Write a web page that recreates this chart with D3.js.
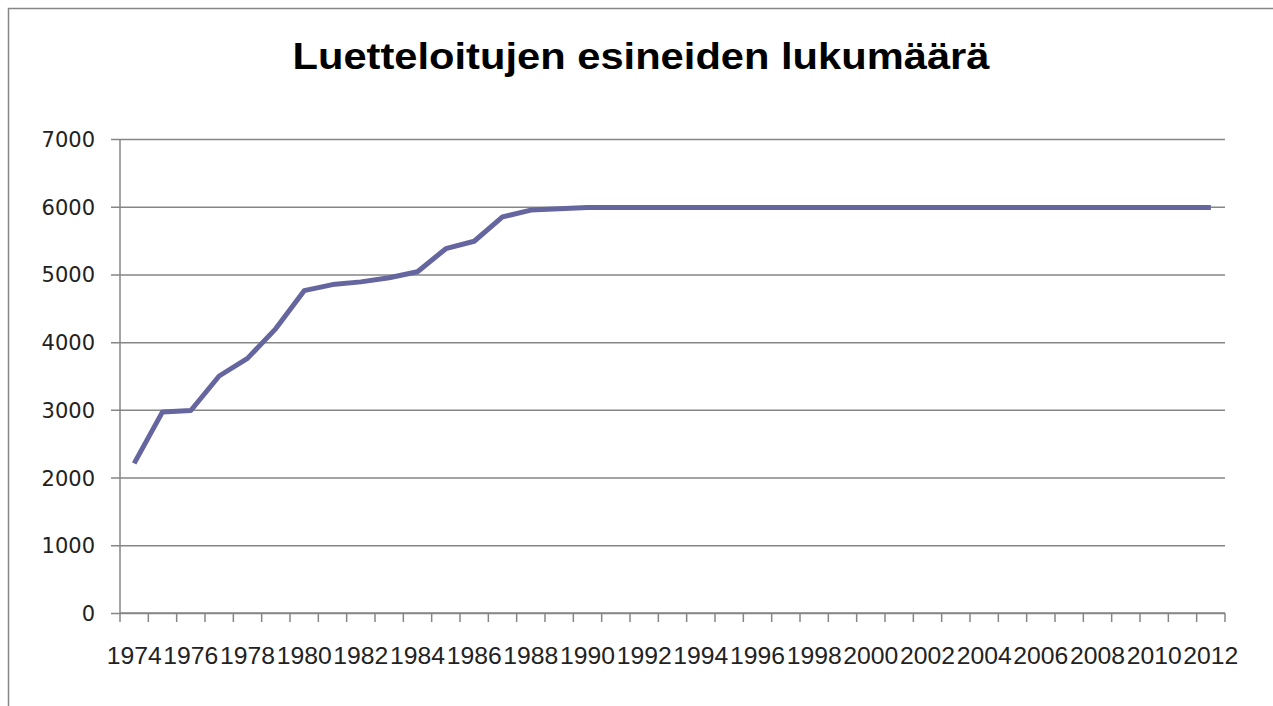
<!DOCTYPE html>
<html>
<head>
<meta charset="utf-8">
<script src="https://cdn.jsdelivr.net/npm/d3@7"></script>
<style>
  body { margin: 0; background: #fff; }
  svg { display: block; }
</style>
</head>
<body>
<div id="chart"></div>
<script>
/* global d3 */

var title = "Luetteloitujen esineiden lukumäärä";

var years = d3.range( 1974, 2013 ).map( String );

var counts = [
  2210, 2970, 2990, 3500, 3760, 4200, 4760, 4850, 4890, 4950,
  5040, 5380, 5490, 5850, 5950, 5970, 5990, 5990, 5990, 5990,
  5990, 5990, 5990, 5990, 5990, 5990, 5990, 5990, 5990, 5990,
  5990, 5990, 5990, 5990, 5990, 5990, 5990, 5990, 5990
];

var yTicks = [ 0, 1000, 2000, 3000, 4000, 5000, 6000, 7000 ];
var xLabels = years.filter( function( d, i ) { return i % 2 === 0; } );

var width = 1273,
  height = 706,
  plot = { left: 120, right: 1225, top: 139, bottom: 613 },
  axisColor = "#868686",
  lineColor = "#65659f";

var svg = d3.select( "#chart" ).append( "svg" )
  .attr( "width", width )
  .attr( "height", height );

// Outer frame (top and left edges only visible)
svg.append( "path" )
  .attr( "d", "M8.5," + height + "V8.5H" + width )
  .attr( "fill", "none" )
  .attr( "stroke", axisColor )
  .attr( "stroke-width", 1.5 );

svg.append( "text" )
  .attr( "x", 641 )
  .attr( "y", 69 )
  .attr( "text-anchor", "middle" )
  .attr( "textLength", 697 )
  .attr( "lengthAdjust", "spacingAndGlyphs" )
  .style( "font-family", "'Liberation Sans Narrow', 'Liberation Sans', sans-serif" )
  .style( "font-weight", "bold" )
  .style( "font-size", "36px" )
  .text( title );

var xScale = d3.scaleBand()
  .domain( years )
  .range( [ plot.left, plot.right ] )
  .padding( 0 );

var yScale = d3.scaleLinear()
  .domain( [ 0, 7000 ] )
  .range( [ plot.bottom, plot.top ] );

// Gridlines with left tick marks
var yAxis = d3.axisLeft( yScale )
  .tickValues( yTicks )
  .tickSize( -( plot.right - plot.left ) )
  .tickPadding( 25 )
  .tickFormat( d3.format( "d" ) );

var gy = svg.append( "g" )
  .attr( "transform", "translate(" + plot.left + ",0)" )
  .call( yAxis );

gy.select( ".domain" ).remove();
gy.selectAll( ".tick line" )
  .attr( "x1", -9 )
  .attr( "stroke", axisColor )
  .attr( "stroke-width", 1.5 );
gy.selectAll( ".tick text" )
  .attr( "x", -25 )
  .attr( "dy", "0.36em" )
  .style( "font-family", "'DejaVu Sans', sans-serif" )
  .style( "font-size", "21px" )
  .style( "fill", "#222" );

// Y axis line
svg.append( "line" )
  .attr( "x1", plot.left ).attr( "x2", plot.left )
  .attr( "y1", plot.top ).attr( "y2", plot.bottom )
  .attr( "stroke", axisColor )
  .attr( "stroke-width", 1.5 );

// X axis: ticks between categories
var gx = svg.append( "g" );

gx.append( "line" )
  .attr( "x1", plot.left ).attr( "x2", plot.right )
  .attr( "y1", plot.bottom ).attr( "y2", plot.bottom )
  .attr( "stroke", axisColor )
  .attr( "stroke-width", 1.5 );

var boundaries = years.map( function( d ) { return xScale( d ); } )
  .concat( [ xScale.range()[ 1 ] ] );

gx.selectAll( ".xtick" )
  .data( boundaries )
  .enter()
  .append( "line" )
    .attr( "class", "xtick" )
    .attr( "x1", function( d ) { return d; } )
    .attr( "x2", function( d ) { return d; } )
    .attr( "y1", plot.bottom )
    .attr( "y2", plot.bottom + 9 )
    .attr( "stroke", axisColor )
    .attr( "stroke-width", 1.5 );

gx.selectAll( ".xlabel" )
  .data( xLabels )
  .enter()
  .append( "text" )
    .attr( "class", "xlabel" )
    .attr( "x", function( d ) { return xScale( d ) + xScale.bandwidth() / 2; } )
    .attr( "y", 664 )
    .attr( "text-anchor", "middle" )
    .attr( "textLength", 55 )
    .attr( "lengthAdjust", "spacingAndGlyphs" )
    .style( "font-family", "'Liberation Sans', sans-serif" )
    .style( "font-size", "24px" )
    .style( "fill", "#222" )
    .text( function( d ) { return d; } );

// Series line
var line = d3.line()
  .x( function( d, i ) { return xScale( years[ i ] ) + xScale.bandwidth() / 2; } )
  .y( function( d ) { return yScale( d ); } );

svg.append( "path" )
  .datum( counts )
  .attr( "d", line )
  .attr( "fill", "none" )
  .attr( "stroke", lineColor )
  .attr( "stroke-width", 5 )
  .attr( "stroke-linejoin", "round" );
</script>
</body>
</html>
